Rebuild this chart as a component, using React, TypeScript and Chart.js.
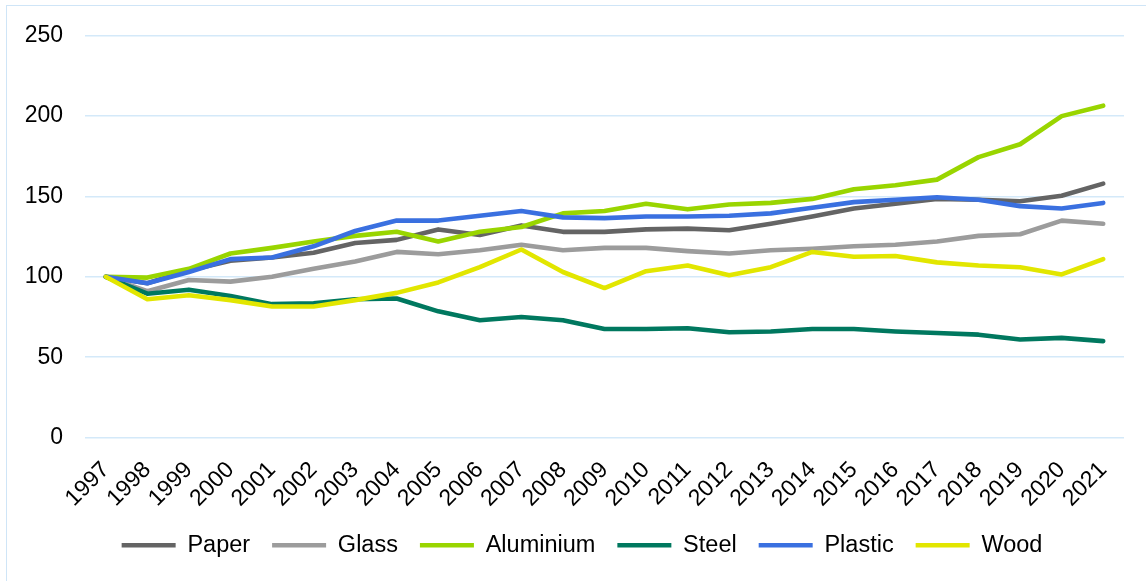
import React, { useEffect, useRef } from "react";
import { Chart, registerables } from "chart.js";

Chart.register(...registerables);

// Index, 1997 = 100
const years = [
  "1997", "1998", "1999", "2000", "2001", "2002", "2003", "2004", "2005",
  "2006", "2007", "2008", "2009", "2010", "2011", "2012", "2013", "2014",
  "2015", "2016", "2017", "2018", "2019", "2020", "2021",
];

const paper = [100, 96, 104, 110, 112, 115, 121, 123, 129.5, 126, 132, 128, 128, 129.5, 130, 129, 133, 137.5, 142.5, 145.5, 148.5, 148, 147, 150.5, 158];
const glass = [100, 91, 98, 97, 100, 105, 109.5, 115.5, 114, 116.5, 120, 116.5, 118, 118, 116, 114.5, 116.5, 117.5, 119, 120, 122, 125.5, 126.5, 135, 133];
const aluminium = [100, 99.5, 105, 114.5, 118, 122, 125.5, 128, 122, 128, 131, 139.5, 141, 145.5, 142, 145, 146, 148.5, 154.5, 157, 160.5, 174.5, 182.5, 200, 206.5];
const steel = [100, 89.5, 92, 88, 83, 83.5, 86, 86.5, 78.5, 73, 75, 73, 67.5, 67.5, 68, 65.5, 66, 67.5, 67.5, 66, 65, 64, 61, 62, 60];
const plastic = [100, 96, 103, 111, 112, 119, 128.5, 135, 135, 138, 141, 137, 136.5, 137.5, 137.5, 138, 139.5, 143, 146.5, 148, 149.5, 148, 144, 142.5, 146];
const wood = [100, 86, 88.5, 85.5, 81.5, 81.5, 85.5, 90, 96.5, 106, 117, 103, 93, 103.5, 107, 101, 106, 115.5, 112.5, 113, 109, 107, 106, 101.5, 111];

const seriesNames = ["Paper", "Glass", "Aluminium", "Steel", "Plastic", "Wood"];
const seriesValues = [paper, glass, aluminium, steel, plastic, wood];
const seriesColors = ["#646464", "#9C9C9C", "#99D500", "#00785F", "#3A70E0", "#E2E600"];

const yTicks = [0, 50, 100, 150, 200, 250];

const FONT = "'Liberation Sans', Arial, sans-serif";
const W = 1146;
const H = 581;

// Centre the legend on the full canvas width rather than on the padded area
const legendShift = {
  id: "legendShift",
  afterLayout(chart: any) {
    const lg = chart.legend;
    if (!lg) return;
    lg.left += 20;
    lg.right += 20;
  },
};

export default function App() {
  const canvasRef = useRef<HTMLCanvasElement | null>(null);

  useEffect(() => {
    const canvas = canvasRef.current;
    if (!canvas) return;
    const chart = new Chart(canvas, {
      type: "line",
      data: {
        labels: years,
        datasets: seriesNames.map((name, i) => ({
          label: name,
          data: seriesValues[i],
          borderColor: seriesColors[i],
          backgroundColor: seriesColors[i],
          borderWidth: 4.6,
          borderCapStyle: "round" as const,
          borderJoinStyle: "round" as const,
          pointRadius: 0,
          pointHoverRadius: 0,
          tension: 0,
          fill: false,
          // later series are painted above earlier ones
          order: seriesNames.length - 1 - i,
        })),
      },
      options: {
        responsive: false,
        animation: false,
        devicePixelRatio: 1,
        layout: { padding: { left: 0, top: 35, right: 22, bottom: 14 } },
        plugins: {
          tooltip: { enabled: false },
          legend: {
            position: "bottom",
            labels: {
              usePointStyle: true,
              pointStyle: "line",
              pointStyleWidth: 54,
              font: { family: FONT, size: 23.5 },
              color: "#000",
              padding: 22,
              sort: (a: any, b: any) => a.datasetIndex - b.datasetIndex,
            },
          },
        },
        scales: {
          x: {
            offset: true,
            grid: { display: false },
            border: { display: false },
            ticks: {
              autoSkip: false,
              maxRotation: 45,
              minRotation: 45,
              padding: 11,
              color: "#000",
              font: { family: FONT, size: 23 },
            },
            afterFit: (s: any) => {
              s.height = 74;
            },
          },
          y: {
            min: 0,
            max: 250,
            afterBuildTicks: (s: any) => {
              s.ticks = yTicks.map((v) => ({ value: v }));
            },
            grid: { color: "#D4E9F9", lineWidth: 1.5, drawTicks: false },
            border: { display: false },
            ticks: {
              padding: 22,
              color: "#000",
              font: { family: FONT, size: 23 },
            },
            afterFit: (s: any) => {
              s.width = 85;
            },
          },
        },
      },
      plugins: [legendShift],
    });
    return () => chart.destroy();
  }, []);

  return (
    <div style={{ position: "fixed", left: 0, top: 0, width: W, height: H, overflow: "hidden", background: "#fff" }}>
      <div
        style={{
          position: "absolute",
          left: 6,
          top: 5,
          width: W + 20,
          height: H + 20,
          border: "1.5px solid #CFE5F7",
          boxSizing: "border-box",
        }}
      />
      <canvas ref={canvasRef} width={W} height={H} style={{ position: "absolute", left: 0, top: 0 }} />
    </div>
  );
}
